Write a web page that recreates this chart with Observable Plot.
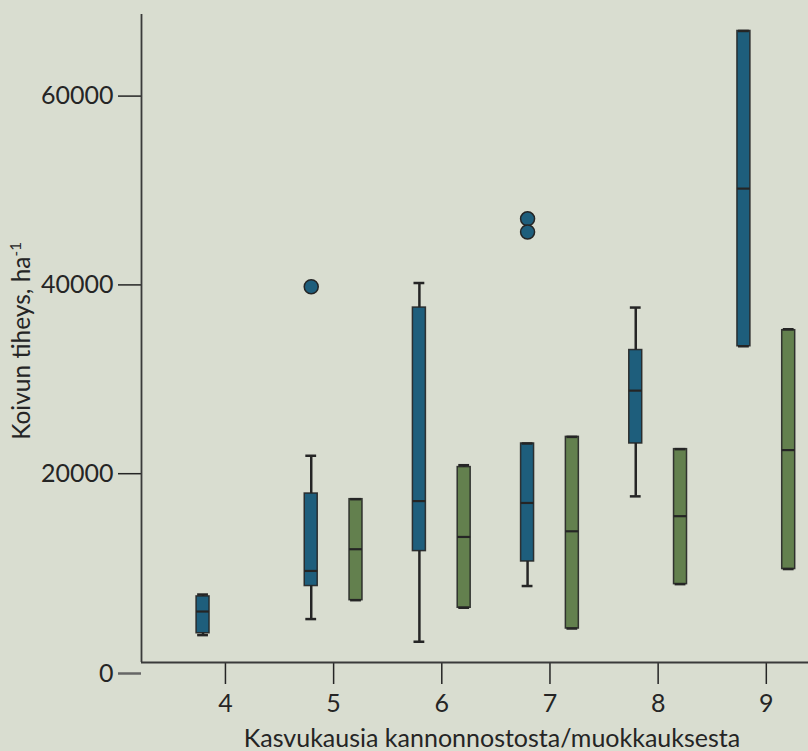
<!DOCTYPE html>
<html>
<head>
<meta charset="utf-8">
<script src="https://cdn.jsdelivr.net/npm/d3@7"></script>
<script src="https://cdn.jsdelivr.net/npm/@observablehq/plot@0.6"></script>
<style>
  html, body { margin: 0; padding: 0; background: #d9ddd0; }
  #chart { width: 808px; height: 751px; }
</style>
</head>
<body>
<div id="chart"></div>
<script>
// Growing seasons since stump lifting / soil preparation
const yearsA = [4, 5, 6, 7, 8, 9];
const yearsB = [5, 6, 7, 8, 9];

// Birch density (stems/ha): whisker low, lower quartile, median, upper quartile, whisker high
const aLow    = [2900, 4600, 2200, 8100, 17600, 33500];
const aQ1     = [3100, 8100, 11800, 10700, 23200, 33500];
const aMedian = [5400, 9700, 17100, 16900, 28800, 50200];
const aQ3     = [7000, 17900, 37600, 23200, 33100, 66900];
const aHigh   = [7200, 21900, 40200, 23200, 37600, 66900];

const bLow    = [6600, 5800, 3600, 8300, 9900];
const bQ1     = [6600, 5800, 3600, 8300, 9900];
const bMedian = [12000, 13300, 13900, 15500, 22500];
const bQ3     = [17300, 20700, 23900, 22600, 35200];
const bHigh   = [17300, 20900, 23900, 22600, 35300];

// Outlying observations
const outYears  = [5, 7, 7];
const outValues = [39800, 47000, 45600];

const yTicks = [20000, 40000, 60000];
const xTicks = [4, 5, 6, 7, 8, 9];
const xTitle = "Kasvukausia kannonnostosta/muokkauksesta";
const yTitle = "Koivun tiheys, ha";
const yTitleSup = "-1";

const colA = "#1e5e7c";
const colB = "#63804e";
const ink = "#252525";

const offset = 0.207;   // side-by-side shift from the category centre
const half = 0.06;      // half box width
const capHalf = 0.05;   // half whisker cap width

const rows = [
  ...yearsA.map((year, i) => ({year, pos: year - offset, fill: colA,
    lo: aLow[i], q1: aQ1[i], med: aMedian[i], q3: aQ3[i], hi: aHigh[i]})),
  ...yearsB.map((year, i) => ({year, pos: year + offset, fill: colB,
    lo: bLow[i], q1: bQ1[i], med: bMedian[i], q3: bQ3[i], hi: bHigh[i]}))
];
const outliers = outYears.map((year, i) => ({pos: year - offset, value: outValues[i]}));

const xMin = 3.224, xMax = 9.39;
const plain = d => String(d);

const chart = Plot.plot({
  width: 808,
  height: 751,
  marginLeft: 141,
  marginRight: 0,
  marginTop: 14,
  marginBottom: 89,
  style: {background: "#d9ddd0", fontFamily: "Lato, sans-serif", fontSize: "25px", color: ink, overflow: "visible"},
  x: {domain: [xMin, xMax], axis: null},
  y: {domain: [0, 68644], axis: null},
  marks: [
    // whiskers
    Plot.ruleX(rows, {x: "pos", y1: "lo", y2: "hi", stroke: ink, strokeWidth: 2.5}),
    // boxes
    Plot.rect(rows, {x1: d => d.pos - half, x2: d => d.pos + half, y1: "q1", y2: "q3",
      fill: "fill", stroke: ink, strokeWidth: 1.5, strokeOpacity: 0.9}),
    // medians
    Plot.ruleY(rows, {y: "med", x1: d => d.pos - half, x2: d => d.pos + half, stroke: ink, strokeWidth: 2.2}),
    // whisker caps
    Plot.ruleY(rows, {y: "lo", x1: d => d.pos - capHalf, x2: d => d.pos + capHalf, stroke: ink, strokeWidth: 2.5}),
    Plot.ruleY(rows, {y: "hi", x1: d => d.pos - capHalf, x2: d => d.pos + capHalf, stroke: ink, strokeWidth: 2.5}),
    // outliers
    Plot.dot(outliers, {x: "pos", y: "value", r: 7, fill: colA, stroke: ink, strokeWidth: 1.5}),
    // axes
    Plot.axisY(yTicks, {tickSize: 23, tickPadding: 5, tickFormat: plain, stroke: ink, strokeWidth: 1.5, fill: ink, fontSize: 25, label: null}),
    Plot.axisY([0], {tickSize: 23, tickPadding: 5, tickFormat: plain, stroke: "#666", strokeWidth: 2.5, fill: ink, fontSize: 25, dy: 11, label: null}),
    Plot.axisX(xTicks, {tickSize: 22, tickPadding: 10, tickFormat: plain, stroke: ink, strokeWidth: 1.5, fill: ink, fontSize: 25, label: null}),
    Plot.ruleX([xMin], {stroke: "#3a3a3a", strokeWidth: 1.8}),
    Plot.ruleY([0], {stroke: "#3a3a3a", strokeWidth: 1.8})
  ]
});

const svg = d3.select(chart);
svg.append("text")
  .attr("x", 492)
  .attr("y", 747)
  .attr("text-anchor", "middle")
  .attr("fill", ink)
  .style("font-size", "25px")
  .text(xTitle);

const yt = svg.append("text")
  .attr("transform", "translate(30,341) rotate(-90)")
  .attr("text-anchor", "middle")
  .attr("fill", ink)
  .style("font-size", "24.5px");
yt.append("tspan").text(yTitle);
yt.append("tspan").attr("baseline-shift", "super").style("font-size", "15px").text(yTitleSup);

document.getElementById("chart").appendChild(chart);
</script>
</body>
</html>
